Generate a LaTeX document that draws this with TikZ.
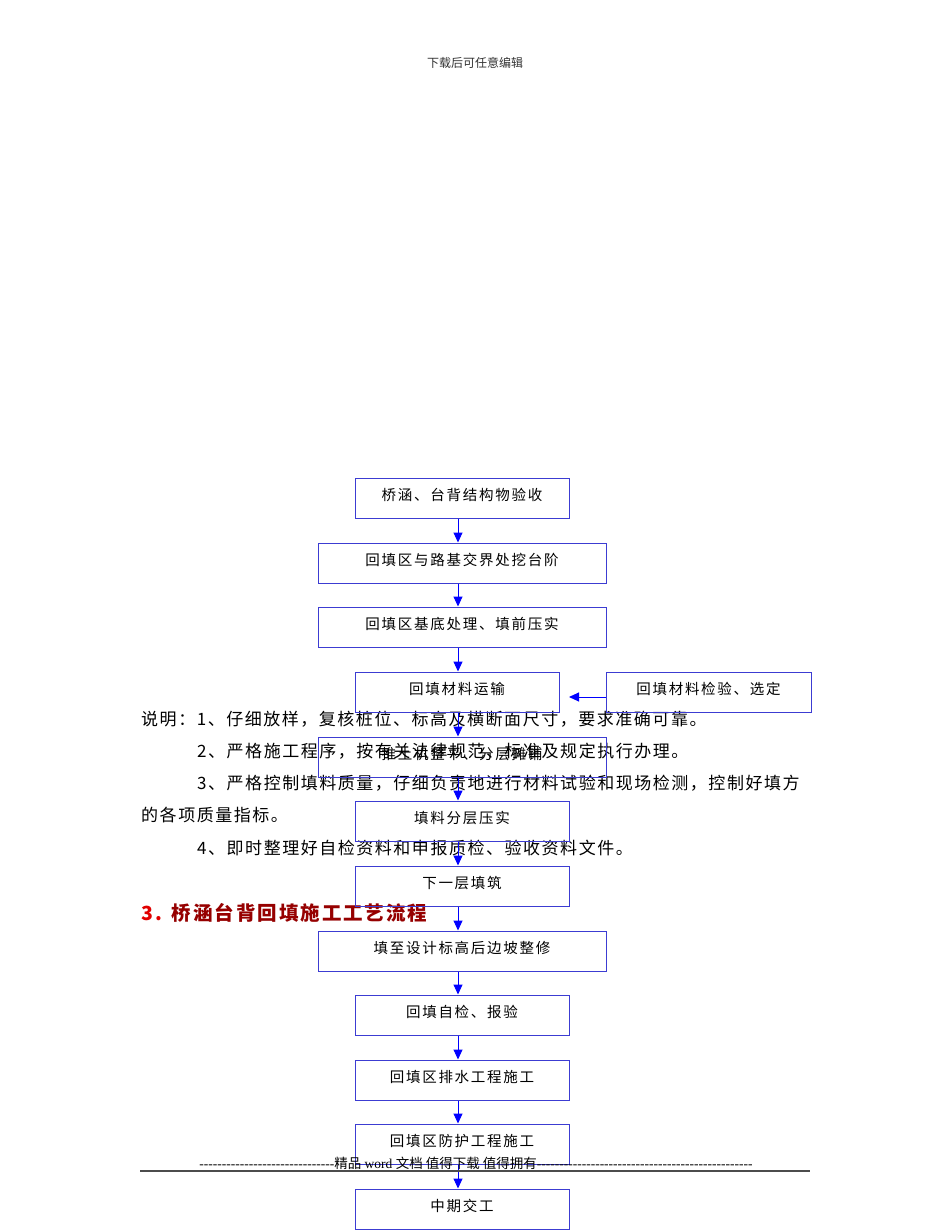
\documentclass[tikz,border=0pt]{standalone}
\usepackage{fontspec}
\usetikzlibrary{arrows.meta,calc}
\newfontfamily\boxfont[LetterSpace=12]{Noto Sans CJK SC}
\newfontfamily\parafont[LetterSpace=9]{Noto Sans CJK SC}
\newfontfamily\headfont[LetterSpace=10]{Noto Sans CJK SC}
\newfontfamily\plainfont{Noto Sans CJK SC}
\newfontfamily\latinserif{Liberation Serif}
\definecolor{boxblue}{RGB}{60,60,210}
\definecolor{arrblue}{RGB}{0,0,255}
\definecolor{headred}{RGB}{150,0,0}
\definecolor{numred}{RGB}{225,0,0}
\begin{document}
\begin{tikzpicture}[x=1pt,y=-1pt,
  box/.style={draw=boxblue, line width=1pt, inner xsep=0pt, inner ysep=0pt,
    text height=22pt, text depth=18pt, align=center,
    font=\boxfont\fontsize{14.5pt}{17pt}\selectfont},
  narrow/.style={box, minimum width=214pt},
  wide/.style={box, minimum width=288pt},
  arr/.style={draw=arrblue, line width=1pt, -{Triangle[length=10pt,width=9pt]}},
  para/.style={anchor=west, inner sep=0pt, font=\parafont\fontsize{17pt}{19pt}\selectfont}]
\fill[white] (0,0) rectangle (950,1230);
\useasboundingbox (0,0) rectangle (950,1230);

% header
\node[font=\plainfont\fontsize{12pt}{14pt}\selectfont, text=black!80] (hdr) at (475,63) {下载后可任意编辑};

% paragraph text
\node[para] (p1) at (141,719) {说明：1、仔细放样，复核桩位、标高及横断面尺寸，要求准确可靠。};
\node[para] (p2) at (197,751) {2、严格施工程序，按有关法律规范、标准及规定执行办理。};
\node[para] (p3) at (197,783) {3、严格控制填料质量，仔细负责地进行材料试验和现场检测，控制好填方};
\node[para] (p4) at (141,815) {的各项质量指标。};
\node[para] (p5) at (197,848) {4、即时整理好自检资料和申报质检、验收资料文件。};

% heading
\node[anchor=west, inner sep=0pt, font=\headfont\bfseries\fontsize{19.5pt}{22pt}\selectfont] (head) at (141,913)
  {{\color{numred}3.}\hspace{10pt}{\color{headred}桥涵台背回填施工工艺流程}};

% flow boxes
\node[narrow] (b1) at (462,498) {桥涵、台背结构物验收};
\node[wide] (b2) at (462,563) {回填区与路基交界处挖台阶};
\node[wide] (b3) at (462,627) {回填区基底处理、填前压实};
\node[box, minimum width=204pt] (b4) at (457,692) {回填材料运输};
\node[box, minimum width=205pt] (b5) at (708.5,692) {回填材料检验、选定};
\node[wide] (b6) at (462,757) {推土机整平、分层摊铺};
\node[narrow] (b7) at (462,821) {填料分层压实};
\node[narrow] (b8) at (462,886) {下一层填筑};
\node[wide] (b9) at (462,951) {填至设计标高后边坡整修};
\node[narrow] (b10) at (462,1015) {回填自检、报验};
\node[narrow] (b11) at (462,1080) {回填区排水工程施工};
\node[narrow] (b12) at (462,1144) {回填区防护工程施工};
\node[narrow] (b13) at (462,1209) {中期交工};

% arrows
\coordinate (ax) at (458,0);
\foreach \a/\b in {b1/b2,b2/b3,b3/b4,b4/b6,b6/b7,b7/b8,b8/b9,b9/b10,b10/b11,b11/b12,b12/b13}{
  \draw[arr] (\a.south -| ax) -- (\b.north -| ax);
}
\coordinate (a5) at (569,697);
\draw[arr] (b5.west |- a5) -- (a5);

% footer
\node[inner sep=0pt, font=\fontsize{13.5pt}{15pt}\selectfont] (foot) at (476,1163)
  {\latinserif ------------------------------{\plainfont 精品} word {\plainfont 文档 值得下载 值得拥有}------------------------------------------------};
\draw[line width=1.5pt, black!70] (140,1171) -- (810,1171);
\end{tikzpicture}
\end{document}
